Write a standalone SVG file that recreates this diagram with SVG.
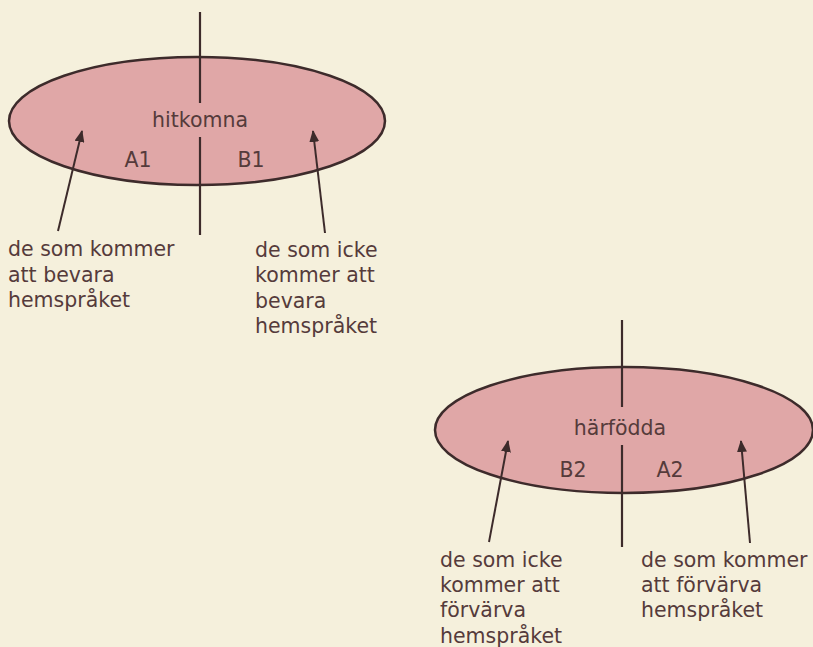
<svg xmlns="http://www.w3.org/2000/svg" width="813" height="647" viewBox="0 0 813 647">
<defs>
<marker id="ah" viewBox="0 0 12 10" refX="11" refY="5" markerWidth="12" markerHeight="10" markerUnits="userSpaceOnUse" orient="auto">
<path d="M0,0 L12,5 L0,10 Z" fill="#3d2b2b"/>
</marker>
<style>
.ell{fill:#e0a7a7;stroke:#3d2b2b;stroke-width:2.5}
.ln{stroke:#3d2b2b;stroke-width:2.2;fill:none}
.ar{stroke:#3d2b2b;stroke-width:2;fill:none;marker-end:url(#ah)}
text{font-family:"DejaVu Sans","Verdana",sans-serif;font-size:20.5px;fill:#553b3b}
.c{text-anchor:middle}
</style>
</defs>
<rect width="813" height="647" fill="#f5f0dc"/>
<g id="node-hitkomna">
<ellipse class="ell" cx="197" cy="121" rx="188" ry="64"/>
<text class="c" x="200" y="127">hitkomna</text>
<text class="c" x="138" y="167">A1</text>
<text class="c" x="251" y="167">B1</text>
</g>
<g id="node-harfodda">
<ellipse class="ell" cx="624" cy="430" rx="189" ry="63"/>
<text class="c" x="620" y="435">härfödda</text>
<text class="c" x="573" y="477">B2</text>
<text class="c" x="670" y="477">A2</text>
</g>
<g id="label-A1">
<text x="8" y="256">de som kommer</text>
<text x="8" y="282">att bevara</text>
<text x="8" y="307">hemspråket</text>
</g>
<g id="label-B1">
<text x="255" y="257">de som icke</text>
<text x="255" y="282">kommer att</text>
<text x="255" y="308">bevara</text>
<text x="255" y="333">hemspråket</text>
</g>
<g id="label-B2">
<text x="440" y="567">de som icke</text>
<text x="440" y="592">kommer att</text>
<text x="440" y="617">förvärva</text>
<text x="440" y="643">hemspråket</text>
</g>
<g id="label-A2">
<text x="641" y="567">de som kommer</text>
<text x="641" y="592">att förvärva</text>
<text x="641" y="617">hemspråket</text>
</g>
<g id="connectors">
<line class="ln" x1="200" y1="12" x2="200" y2="103"/>
<line class="ln" x1="200" y1="137" x2="200" y2="235"/>
<line class="ln" x1="622" y1="320" x2="622" y2="407"/>
<line class="ln" x1="622" y1="445" x2="622" y2="547"/>
<line class="ar" x1="58" y1="231" x2="82" y2="131"/>
<line class="ar" x1="325" y1="233" x2="313" y2="131"/>
<line class="ar" x1="489" y1="542" x2="508" y2="441"/>
<line class="ar" x1="750" y1="543" x2="741" y2="441"/>
</g>
</svg>
